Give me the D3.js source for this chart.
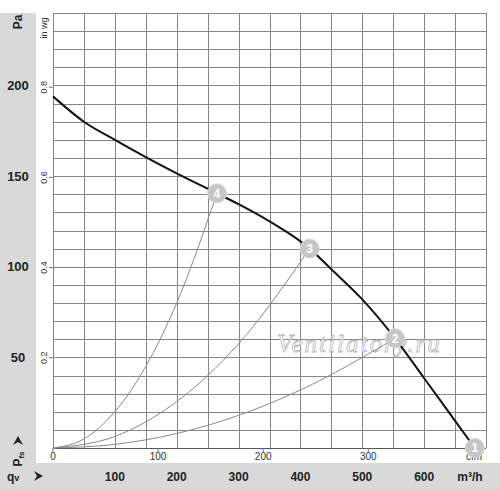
<!DOCTYPE html>
<html>
<head>
<meta charset="utf-8">
<script src="https://cdn.jsdelivr.net/npm/d3@7"></script>
<style>
  body { margin: 0; background: #fff; }
  svg { display: block; font-family: "Liberation Sans", Arial, sans-serif; }
</style>
</head>
<body>
<svg id="chart" width="500" height="489"></svg>
<script>
// fan curve, m3/h vs Pa
const fanFlow = [0, 50, 100, 150, 200, 265, 300, 350, 415, 450, 500, 553, 600, 650, 682];
const fanPressure = [194, 180, 170, 160.5, 151.5, 140.5, 134.5, 125, 110, 98.6, 82, 60.5, 38.5, 15, 0];

// system lines through the operating points
const sys4Flow = [0, 50, 100, 150, 200, 265];
const sys4Pressure = [0, 5, 20, 45, 80, 140.5];
const sys3Flow = [0, 100, 200, 300, 415];
const sys3Pressure = [0, 6.4, 25.6, 57.5, 110];
const sys2Flow = [0, 100, 200, 300, 400, 553];
const sys2Pressure = [0, 2, 8, 18, 32, 60.5];

const pointLabels = ['1', '2', '3', '4'];
const pointFlow = [682, 553, 415, 265];
const pointPressure = [0, 60.5, 110, 140.5];

const paTicks = [50, 100, 150, 200];
const inwgTicks = [0.2, 0.4, 0.6, 0.8];
const m3hTicks = [100, 200, 300, 400, 500, 600];
const cfmTicks = [0, 100, 200, 300];

const svg = d3.select('#chart');
const W = 500, H = 489;
const mLeft = 53, mRight = 486, mTop = 13, mBottom = 448;

const x = d3.scaleLinear().domain([0, 700]).range([mLeft, mRight]);
const y = d3.scaleLinear().domain([0, 240]).range([mBottom, mTop]);
const PA_PER_INWG = 248.84;
const M3H_PER_CFM = 1.699;

// background bands
svg.append('rect').attr('x', 0).attr('y', mTop).attr('width', 36).attr('height', H - mTop).attr('fill', '#d9d9d9');
svg.append('rect').attr('x', 0).attr('y', 463).attr('width', W).attr('height', H - 463).attr('fill', '#d9d9d9');

// grid
const grid = svg.append('g').attr('stroke', '#878787').attr('stroke-width', 1);
grid.selectAll('line.v').data(d3.range(0, 701, 50)).enter().append('line')
  .attr('x1', d => Math.round(x(d)) + 0.5).attr('x2', d => Math.round(x(d)) + 0.5)
  .attr('y1', mTop).attr('y2', mBottom);
grid.selectAll('line.h').data(d3.range(0, 241, 10)).enter().append('line')
  .attr('y1', d => Math.round(y(d)) + 0.5).attr('y2', d => Math.round(y(d)) + 0.5)
  .attr('x1', mLeft).attr('x2', mRight);
svg.append('line').attr('x1', mLeft).attr('x2', mRight)
  .attr('y1', Math.round(y(0)) + 0.5).attr('y2', Math.round(y(0)) + 0.5)
  .attr('stroke', '#555').attr('stroke-width', 1.2);

// small ticks
svg.selectAll('line.tw').data(inwgTicks).enter().append('line')
  .attr('x1', mLeft - 4).attr('x2', mLeft)
  .attr('y1', d => y(d * PA_PER_INWG)).attr('y2', d => y(d * PA_PER_INWG))
  .attr('stroke', '#777');
svg.selectAll('line.tc').data(cfmTicks).enter().append('line')
  .attr('x1', d => x(d * M3H_PER_CFM)).attr('x2', d => x(d * M3H_PER_CFM))
  .attr('y1', mBottom).attr('y2', mBottom + 4)
  .attr('stroke', '#777');

// watermark
svg.append('text').attr('x', 277).attr('y', 352)
  .attr('font-family', '"Liberation Serif", "DejaVu Serif", serif')
  .attr('font-style', 'italic').attr('font-size', 25).attr('letter-spacing', 2)
  .attr('fill', '#fff').attr('stroke', '#b8b8b8').attr('stroke-width', 0.8)
  .text('Ventilatory.ru');

// system lines
const lineGen = d3.line().x(d => x(d[0])).y(d => y(d[1])).curve(d3.curveMonotoneX);
[[sys4Flow, sys4Pressure], [sys3Flow, sys3Pressure], [sys2Flow, sys2Pressure]].forEach(s => {
  svg.append('path').datum(d3.zip(s[0], s[1]))
    .attr('d', lineGen).attr('fill', 'none')
    .attr('stroke', '#8a8a8a').attr('stroke-width', 1);
});

// fan curve
svg.append('path').datum(d3.zip(fanFlow, fanPressure))
  .attr('d', lineGen)
  .attr('fill', 'none').attr('stroke', '#111').attr('stroke-width', 2);

// left labels
svg.selectAll('text.pa').data(paTicks).enter().append('text')
  .attr('x', 18).attr('y', d => y(d)).attr('dy', '0.35em')
  .attr('text-anchor', 'middle').attr('font-weight', 'bold').attr('font-size', 13)
  .attr('fill', '#222').text(d => d);
svg.append('text').attr('transform', 'translate(22,22) rotate(-90)')
  .attr('text-anchor', 'middle').attr('font-weight', 'bold').attr('font-size', 12)
  .attr('fill', '#222').text('Pa');

svg.selectAll('text.wg').data(inwgTicks).enter().append('text')
  .attr('transform', d => `translate(47,${y(d * PA_PER_INWG)}) rotate(-90)`)
  .attr('text-anchor', 'middle').attr('font-size', 9).attr('fill', '#333')
  .text(d => d.toFixed(1));
svg.append('text').attr('transform', 'translate(47,28) rotate(-90)')
  .attr('text-anchor', 'middle').attr('font-size', 9).attr('fill', '#333')
  .text('in wg');

// Pfs with arrow
const pfs = svg.append('text').attr('transform', 'translate(22,459) rotate(-90)')
  .attr('text-anchor', 'middle').attr('font-weight', 'bold').attr('font-size', 12).attr('fill', '#222');
pfs.append('tspan').text('P');
pfs.append('tspan').attr('font-size', 8).attr('dy', 2).text('fs');
svg.append('path').attr('d', 'M18,436 L23,445 L18,442 L13,445 Z').attr('fill', '#222');

// bottom labels
svg.selectAll('text.cfm').data(cfmTicks).enter().append('text')
  .attr('x', d => x(d * M3H_PER_CFM)).attr('y', 460)
  .attr('text-anchor', 'middle').attr('font-size', 10).attr('fill', '#333').text(d => d);
svg.append('text').attr('x', 474).attr('y', 460)
  .attr('text-anchor', 'middle').attr('font-size', 10).attr('fill', '#333').text('cfm');

svg.selectAll('text.m3h').data(m3hTicks).enter().append('text')
  .attr('x', d => x(d)).attr('y', 481)
  .attr('text-anchor', 'middle').attr('font-weight', 'bold').attr('font-size', 12)
  .attr('fill', '#222').text(d => d);
svg.append('text').attr('x', 470).attr('y', 481)
  .attr('text-anchor', 'middle').attr('font-weight', 'bold').attr('font-size', 12)
  .attr('fill', '#222').text('m³/h');
const qv = svg.append('text').attr('x', 7).attr('y', 481)
  .attr('font-weight', 'bold').attr('font-size', 12).attr('fill', '#222');
qv.append('tspan').text('q');
qv.append('tspan').attr('font-size', 9).text('v');
svg.append('path').attr('d', 'M43,476 L34,481 L37,476 L34,471 Z').attr('fill', '#222');

// operating points
const pts = svg.selectAll('g.pt').data(d3.range(pointLabels.length)).enter().append('g')
  .attr('transform', i => `translate(${x(pointFlow[i])},${y(pointPressure[i])})`);
pts.append('circle').attr('r', 9.5).attr('fill', '#c6c6c6').attr('stroke', '#d8d8d8').attr('stroke-width', 1);
pts.append('text').attr('text-anchor', 'middle').attr('dy', '0.36em')
  .attr('font-weight', 'bold').attr('font-size', 12).attr('fill', '#fff')
  .text(i => pointLabels[i]);
</script>
</body>
</html>
